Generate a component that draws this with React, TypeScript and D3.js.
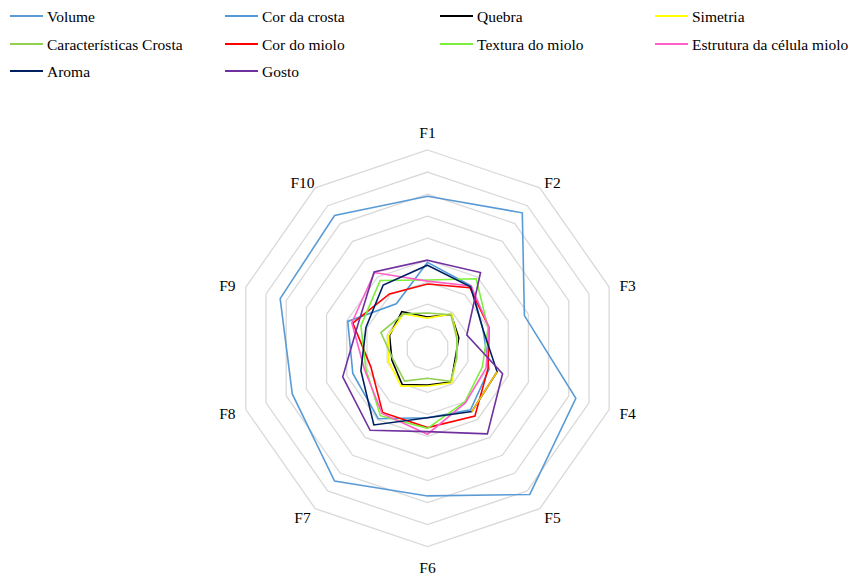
import React from "react";
import * as d3 from "d3";

// Sensory attributes scored per formulation F1..F10
const categories = ["F1", "F2", "F3", "F4", "F5", "F6", "F7", "F8", "F9", "F10"];

const volume = [6.9, 7.6, 4.8, 7.35, 8.2, 6.7, 7.45, 6.7, 7.3, 7.45];
const corDaCrosta = [3.9, 3.5, 2.75, 3.05, 3.45, 3.15, 3.95, 3.7, 3.95, 2.5];
const quebra = [1.42, 1.9, 1.55, 1.38, 1.9, 1.67, 2.03, 1.76, 1.88, 2.06];
const simetria = [1.37, 1.93, 1.48, 1.43, 1.93, 1.71, 2.12, 1.93, 1.92, 1.93];
const caracteristicasCrosta = [1.6, 1.88, 1.45, 1.45, 1.85, 1.36, 1.84, 1.69, 2.31, 1.93];
const corDoMiolo = [2.92, 3.4, 3.05, 3.0, 3.8, 3.6, 3.6, 2.8, 3.7, 3.05];
const texturaDoMiolo = [3.1, 3.9, 3.0, 2.72, 3.0, 3.63, 3.78, 3.05, 3.3, 3.8];
const estruturaCelula = [3.05, 3.5, 3.05, 2.9, 3.05, 3.9, 3.65, 3.12, 3.75, 4.25];
const aroma = [3.77, 3.45, 2.75, 3.45, 3.55, 3.15, 4.3, 3.3, 3.05, 3.55];
const gosto = [4.0, 4.25, 1.95, 3.72, 4.8, 3.78, 4.6, 4.2, 3.45, 4.28];

const seriesNames = [
  "Volume",
  "Cor da crosta",
  "Quebra",
  "Simetria",
  "Características Crosta",
  "Cor do miolo",
  "Textura do miolo",
  "Estrutura da célula miolo",
  "Aroma",
  "Gosto",
];
const seriesValues = [
  volume,
  corDaCrosta,
  quebra,
  simetria,
  caracteristicasCrosta,
  corDoMiolo,
  texturaDoMiolo,
  estruturaCelula,
  aroma,
  gosto,
];
const seriesColors = [
  "#5B9BD5",
  "#5299D8",
  "#000000",
  "#FFFF00",
  "#92D050",
  "#FF0000",
  "#7CF03C",
  "#FF5FC8",
  "#002060",
  "#7030A0",
];

// Aroma has one segment (F4 -> F5) formatted in a different colour
const aromaHighlight = { from: 3, to: 4, color: "#FFC000" };

const gridLevels = [1, 2, 3, 4, 5, 6, 7, 8, 9];

const W = 849;
const H = 577;
const cx = 427.5;
const cy = 348.3;

const rx = d3.scaleLinear().domain([0, 9]).range([0, 191]);
const ry = d3.scaleLinear().domain([0, 9]).range([0, 198.3]);
const angle = d3
  .scaleLinear()
  .domain([0, categories.length])
  .range([0, 2 * Math.PI]);

function pt(i: number, v: number): [number, number] {
  const a = angle(i);
  return [cx + Math.sin(a) * rx(v), cy - Math.cos(a) * ry(v)];
}

const closedLine = d3.line<[number, number]>().curve(d3.curveLinearClosed);
const openLine = d3.line<[number, number]>();

const FONT = "'Liberation Serif', 'Times New Roman', Tinos, 'DejaVu Serif', serif";

export default function App() {
  const legendColX = [10, 225, 440, 655];
  const legendRowY = [16, 44, 71];

  return (
    <svg
      width={W}
      height={H}
      style={{ position: "absolute", left: 0, top: 0, background: "#fff" }}
    >
      {/* grid rings */}
      {gridLevels.map((lv) => (
        <path
          key={"g" + lv}
          d={closedLine(categories.map((_, i) => pt(i, lv))) || ""}
          fill="none"
          stroke="#D9D9D9"
          strokeWidth={1.3}
        />
      ))}

      {/* series */}
      {seriesValues.map((vals, s) => (
        <path
          key={"s" + s}
          d={closedLine(vals.map((v, i) => pt(i, v))) || ""}
          fill="none"
          stroke={seriesColors[s]}
          strokeWidth={1.6}
          strokeLinejoin="miter"
        />
      ))}
      <path
        d={
          openLine([
            pt(aromaHighlight.from, aroma[aromaHighlight.from]),
            pt(aromaHighlight.to, aroma[aromaHighlight.to]),
          ]) || ""
        }
        fill="none"
        stroke={aromaHighlight.color}
        strokeWidth={1.6}
      />

      {/* axis labels */}
      {categories.map((c, i) => {
        const a = angle(i);
        const cos = Math.cos(a);
        const sin = Math.sin(a);
        const rX = 210 + 4 * cos * cos;
        const rY = Math.abs(cos) > 0.99 ? 217.5 : 207;
        const x = cx + sin * rX;
        const y = cy - cos * rY + 1.5;
        return (
          <text
            key={"c" + i}
            x={x}
            y={y}
            textAnchor="middle"
            dominantBaseline="central"
            style={{ fontFamily: FONT, fontSize: 15.5 }}
            fill="#000"
          >
            {c}
          </text>
        );
      })}

      {/* legend */}
      {seriesNames.map((name, s) => {
        const col = s % 4;
        const row = Math.floor(s / 4);
        const x = legendColX[col];
        const y = legendRowY[row];
        return (
          <g key={"l" + s}>
            <line
              x1={x}
              x2={x + 33}
              y1={y}
              y2={y}
              stroke={seriesColors[s]}
              strokeWidth={1.8}
            />
            <text
              x={x + 37}
              y={y}
              dominantBaseline="central"
              style={{ fontFamily: FONT, fontSize: 15.5 }}
              fill="#000"
            >
              {name}
            </text>
          </g>
        );
      })}
    </svg>
  );
}
